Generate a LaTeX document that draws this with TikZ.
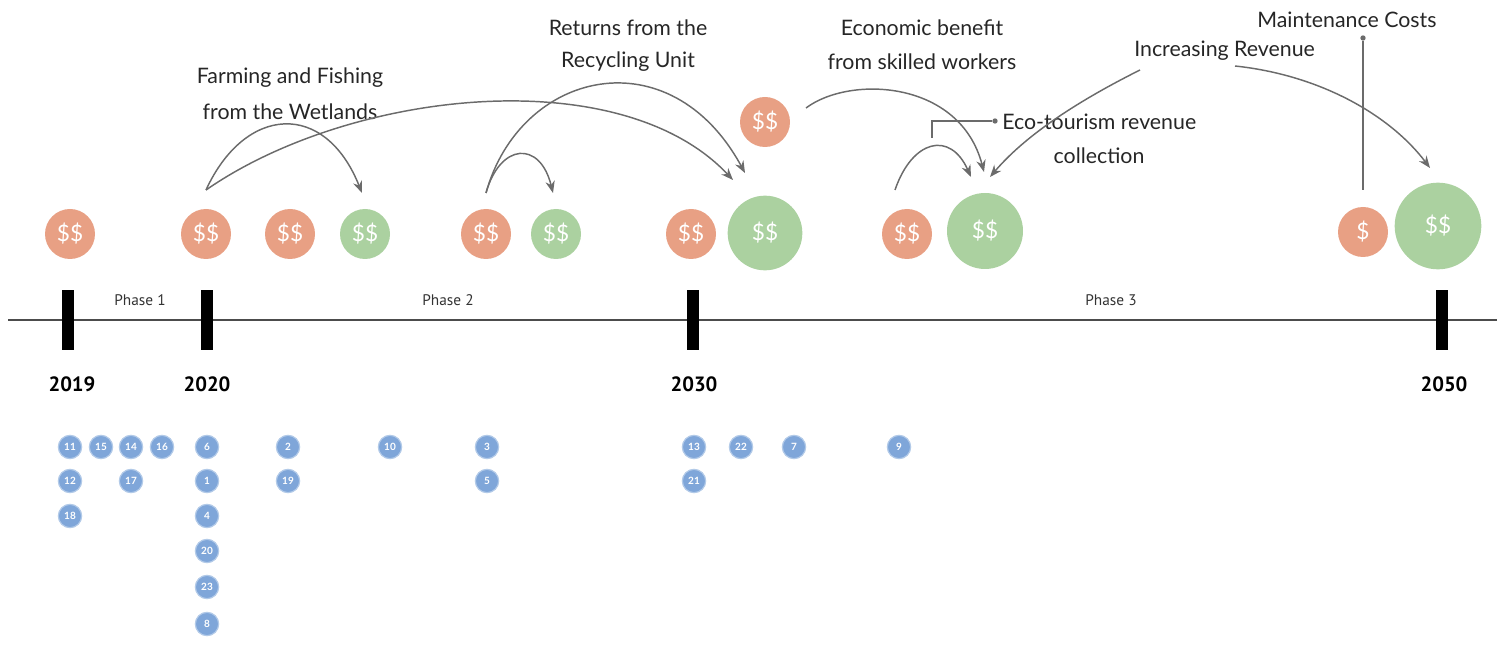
\documentclass[tikz,border=0pt]{standalone}
\usepackage{fontspec}
\setmainfont{Lato}
\newfontfamily\yearfont{PT Sans}
\usetikzlibrary{arrows.meta}
\definecolor{cost}{HTML}{E8A084}
\definecolor{gain}{HTML}{ABD1A0}
\definecolor{pin}{HTML}{7FA6D9}
\definecolor{arr}{HTML}{6B6B6B}
\tikzset{
  money/.style={circle, fill=#1, text=white, inner sep=0pt, font=\fontsize{17}{17}\selectfont},
  costc/.style={money=cost, minimum size=37.5pt},
  gainc/.style={money=gain, minimum size=37.5pt},
  gainbig/.style={money=gain, minimum size=56pt},
  pinc/.style={circle, fill=pin, draw=pin!60, line width=0.9pt, text=white, minimum size=17.5pt, inner sep=0pt, font=\fontsize{7.5}{7.5}\selectfont\bfseries},
  tick/.style={fill=black, draw=none, minimum width=9pt, minimum height=45pt, inner sep=0pt},
  yearl/.style={font=\yearfont\fontsize{15.5}{15.5}\selectfont\bfseries},
  phasel/.style={font=\yearfont\fontsize{11.5}{11.5}\selectfont, text=black!80},
  lab/.style={font=\fontsize{16}{16}\selectfont, text=black!85, align=center, inner sep=0pt},
  flow/.style={draw=arr, line width=1.1pt, -{Stealth[length=9pt,width=7pt]}},
  lead/.style={draw=arr, line width=1pt},
  dotc/.style={circle, fill=arr, inner sep=0pt, minimum size=4pt}
}
\begin{document}
\begin{tikzpicture}[x=0.75pt,y=-0.75pt]
\useasboundingbox (0,0) rectangle (1504,659);
% timeline
\coordinate (tl0) at (8,320);
\coordinate (tl1) at (1497,320);
\draw[draw=black!70, line width=1.5pt] (tl0) -- (tl1);
\node[tick] (k2019) at (68,320) {};
\node[tick] (k2020) at (207,320) {};
\node[tick] (k2030) at (693,320) {};
\node[tick] (k2050) at (1442,320) {};
\node[yearl] (y2019) at (72,384) {2019};
\node[yearl] (y2020) at (207,384) {2020};
\node[yearl] (y2030) at (694,384) {2030};
\node[yearl] (y2050) at (1444,384) {2050};
\node[phasel] (p1) at (140,300) {Phase 1};
\node[phasel] (p2) at (448,300) {Phase 2};
\node[phasel] (p3) at (1111,300) {Phase 3};
% money circles
\node[costc] (c1) at (70,234) {\$\$};
\node[costc] (c2) at (206,234) {\$\$};
\node[costc] (c3) at (290,234) {\$\$};
\node[gainc] (g1) at (365,234) {\$\$};
\node[costc] (c4) at (486,234) {\$\$};
\node[gainc] (g2) at (556,234) {\$\$};
\node[costc] (c5) at (691,234) {\$\$};
\node[gainbig, minimum size=56pt] (g3) at (765,233) {\$\$};
\node[costc] (c6) at (765,122) {\$\$};
\node[costc] (c7) at (907,234) {\$\$};
\node[gainbig, minimum size=57pt] (g4) at (985,231) {\$\$};
\node[costc] (c8) at (1363,232) {\$};
\node[gainbig, minimum size=65pt] (g5) at (1438,226) {\$\$};
% labels
\node[lab] (l1) at (290,78) {Farming and Fishing};
\node[lab] (l1b) at (290,112) {from the Wetlands};
\node[lab] (l2) at (628,28) {Returns from the};
\node[lab] (l2b) at (628,62) {Recycling Unit};
\node[lab] (l3) at (922,28) {Economic benefit};
\node[lab] (l3b) at (922,62) {from skilled workers};
\node[lab, anchor=west] (l4) at (1002,122) {Eco-tourism revenue};
\node[lab] (l4b) at (1099,156) {collection};
\node[lab, anchor=west] (l5) at (1134,51) {Increasing Revenue};
\node[lab, anchor=west] (l6) at (1257,20) {Maintenance Costs};
% arrows
\coordinate (s1) at (206,190);
\coordinate (e1) at (362,193);
\coordinate (e2) at (733,180);
\coordinate (s3) at (486,193);
\coordinate (e3) at (553,193);
\coordinate (e4) at (745,173);
\coordinate (s5) at (806,108);
\coordinate (e5) at (984,172);
\coordinate (s6) at (895,190);
\coordinate (e6) at (971,177);
\coordinate (s7) at (1140,70);
\coordinate (e7) at (990,177);
\coordinate (s8) at (1235,66);
\coordinate (e8) at (1430,168);
\draw[flow] (s1) .. controls (245,105) and (325,100) .. (e1);
\draw[flow] (s1) .. controls (350,90) and (620,60) .. (e2);
\draw[flow] (s3) .. controls (500,143) and (540,140) .. (e3);
\draw[flow] (s3) .. controls (520,70) and (670,35) .. (e4);
\draw[flow] (s5) .. controls (850,75) and (960,80) .. (e5);
\draw[flow] (s6) .. controls (912,140) and (950,130) .. (e6);
\draw[flow] (s7) .. controls (1090,95) and (1030,130) .. (e7);
\draw[flow] (s8) .. controls (1320,75) and (1390,115) .. (e8);
% leaders
\node[dotc] (d1) at (995,121) {};
\coordinate (b1) at (932,121);
\coordinate (b2) at (932,138);
\draw[lead] (d1) -- (b1) -- (b2);
\node[dotc] (d2) at (1363,38) {};
\coordinate (b3) at (1363,190);
\draw[lead] (d2) -- (b3);
% numbered pins
\foreach \n/\x/\y in {11/70/447, 12/70/481, 18/70/516, 15/101/447, 14/131/447, 17/131/481, 16/162/447,
  6/207/447, 1/207/481, 4/207/516, 20/207/551, 23/207/587, 8/207/624,
  2/288/447, 19/288/481, 10/390/447, 3/487/447, 5/487/481,
  13/694/447, 21/694/481, 22/741/447, 7/794/447, 9/899/447}
  \node[pinc] (n\n) at (\x,\y) {\n};
\end{tikzpicture}
\end{document}
